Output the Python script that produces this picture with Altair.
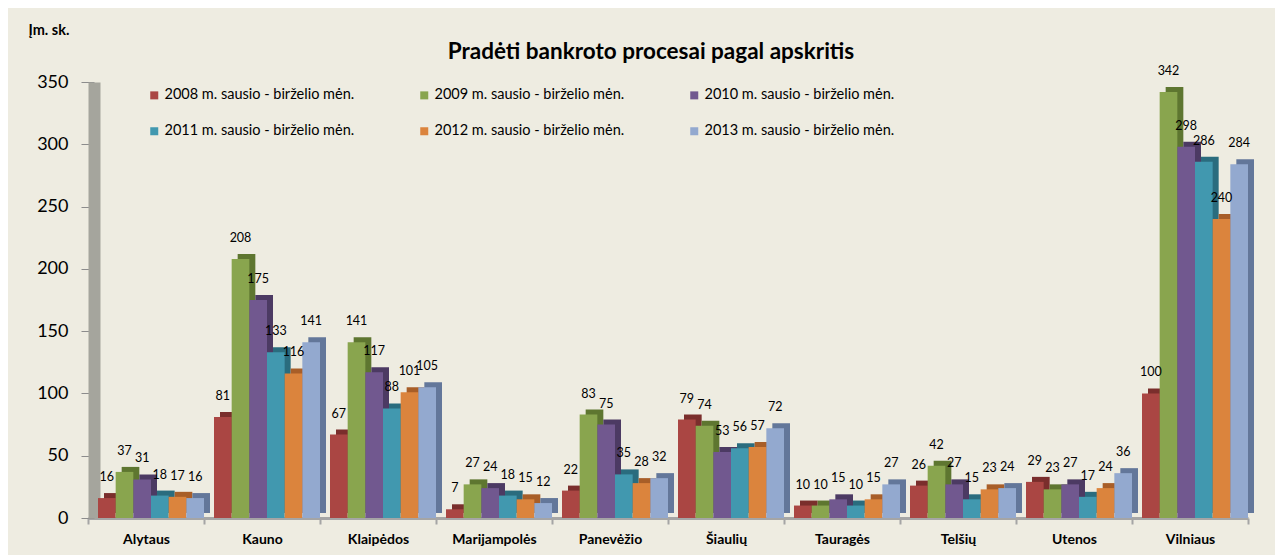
import altair as alt
import pandas as pd

regions = ["Alytaus", "Kauno", "Klaipėdos", "Marijampolės", "Panevėžio",
           "Šiaulių", "Tauragės", "Telšių", "Utenos", "Vilniaus"]
series = ["2008 m. sausio - birželio mėn.", "2009 m. sausio - birželio mėn.",
          "2010 m. sausio - birželio mėn.", "2011 m. sausio - birželio mėn.",
          "2012 m. sausio - birželio mėn.", "2013 m. sausio - birželio mėn."]
v2008 = [16, 81, 67, 7, 22, 79, 10, 26, 29, 100]
v2009 = [37, 208, 141, 27, 83, 74, 10, 42, 23, 342]
v2010 = [31, 175, 117, 24, 75, 53, 15, 27, 27, 298]
v2011 = [18, 133, 88, 18, 35, 56, 10, 15, 17, 286]
v2012 = [17, 116, 101, 15, 28, 57, 15, 23, 24, 240]
v2013 = [16, 141, 105, 12, 32, 72, 27, 24, 36, 284]
y_ticks = [0, 50, 100, 150, 200, 250, 300, 350]

front_colors = ["#AA4643", "#89A54E", "#71588F", "#4198AF", "#DB843D", "#93A9CF"]
side_colors = ["#7A2E2C", "#5E7630", "#4C3A63", "#2A6C7E", "#A85E28", "#63779A"]

rows = []
for s, vals in zip(series, [v2008, v2009, v2010, v2011, v2012, v2013]):
    for r, v in zip(regions, vals):
        rows.append({"Apskritis": r, "Laikotarpis": s, "Skaičius": v})
df = pd.DataFrame(rows)

FONT = "Lato"

x_enc = alt.X("Apskritis:N", sort=regions,
              scale=alt.Scale(paddingInner=0, paddingOuter=0),
              axis=alt.Axis(title=None, labelAngle=0, labelFontSize=14, labelFontWeight="bold",
                            labelFont=FONT, labelColor="black", labelPadding=8,
                            domainColor="#A5A5A5", domainWidth=3, tickColor="#A5A5A5",
                            tickSize=6, tickWidth=2, tickBand="extent"))
y_enc = alt.Y("Skaičius:Q",
              scale=alt.Scale(domain=[0, 350], nice=False),
              axis=alt.Axis(values=y_ticks, grid=False, domainColor="#A5A59D", domainWidth=12,
                            offset=-6, tickColor="#8C8C8C", tickSize=13, labelFontSize=18,
                            labelFont=FONT, labelColor="black", labelPadding=13,
                            title="Įm. sk.", titleAngle=0, titleAlign="left",
                            titleBaseline="middle", titleX=-66, titleY=-52, titleFontSize=14.5,
                            titleFontWeight="bold", titleFont=FONT, titleColor="black"))

base = alt.Chart(df)

side = base.mark_bar(yOffset=-5).encode(
    x=x_enc,
    y=y_enc,
    xOffset=alt.XOffset("Laikotarpis:N", sort=series,
                        scale=alt.Scale(type="band", range=[16, 122], paddingInner=0, paddingOuter=0)),
    color=alt.Color("Laikotarpis:N", sort=series,
                    scale=alt.Scale(domain=series, range=side_colors), legend=None),
)

front = base.mark_bar().encode(
    x=x_enc,
    y=y_enc,
    xOffset=alt.XOffset("Laikotarpis:N", sort=series,
                        scale=alt.Scale(type="band", range=[10, 116], paddingInner=0, paddingOuter=0)),
    color=alt.Color("Laikotarpis:N", sort=series,
                    scale=alt.Scale(domain=series, range=front_colors),
                    legend=alt.Legend(orient="none", legendX=59, legendY=6, columns=3,
                                      direction="horizontal", title=None, symbolType="square",
                                      symbolSize=64, symbolStrokeWidth=0, labelFontSize=14.5,
                                      labelFont=FONT, labelColor="black", columnPadding=62,
                                      rowPadding=21, labelOffset=3, padding=0,
                                      labelLimit=400)),
)

labels = base.mark_text(dy=-17, baseline="alphabetic", fontSize=12.5, font=FONT,
                        color="black").encode(
    x=x_enc,
    y=y_enc,
    xOffset=alt.XOffset("Laikotarpis:N", sort=series,
                        scale=alt.Scale(type="band", range=[10, 116], paddingInner=0, paddingOuter=0)),
    text=alt.Text("Skaičius:Q"),
)

chart = alt.layer(side, front, labels).resolve_scale(
    xOffset="independent", color="independent"
).properties(
    width=1160,
    height=436,
    title=alt.TitleParams("Pradėti bankroto procesai pagal apskritis", font=FONT, fontSize=22.5,
                          fontWeight="bold", color="black", anchor="middle", frame="group",
                          dx=-17, offset=-41),
    autosize=alt.AutoSizeParams(type="none"),
    padding={"left": 80, "top": 74, "right": 27, "bottom": 37},
).configure(background="#EEECE1").configure_view(stroke=None)

chart.save("out.html", embed_options={"renderer": "svg", "actions": False})
